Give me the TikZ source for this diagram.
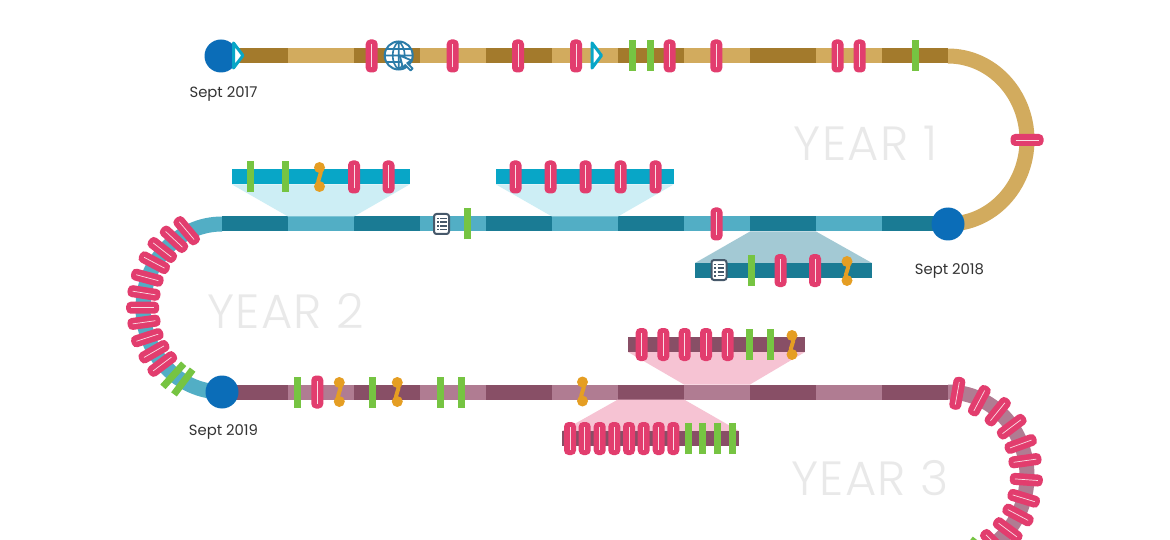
\documentclass[tikz,border=0pt]{standalone}
\usepackage{fontspec}
\setmainfont{Poppins}
\newfontfamily\yearfont[LetterSpace=2.8]{Poppins Light}
\definecolor{yearD}{HTML}{A37A2C}\definecolor{yearL}{HTML}{D2AB5E}
\definecolor{tealD}{HTML}{1A7B94}\definecolor{tealL}{HTML}{52AEC5}
\definecolor{plumD}{HTML}{884F66}\definecolor{plumL}{HTML}{B07C92}
\definecolor{dotblue}{HTML}{0B6DB8}
\definecolor{pinkmk}{HTML}{E23D6E}
\definecolor{pinkcore}{HTML}{FBDDE6}
\definecolor{greenmk}{HTML}{76C442}
\definecolor{orangemk}{HTML}{E59E23}
\definecolor{cyanbar}{HTML}{08A6C7}
\definecolor{cyanfun}{HTML}{CDEEF5}
\definecolor{tealfun}{HTML}{A3C9D4}
\definecolor{pinkfun}{HTML}{F6C3D3}
\definecolor{globeblue}{HTML}{2B7CA8}
\definecolor{iconslate}{HTML}{46586A}
\definecolor{yeargrey}{HTML}{E9E9E9}
\definecolor{labelgrey}{HTML}{333333}
\tikzset{
  trackseg/.style={line width=15pt},
  datelabel/.style={font=\fontsize{14.8}{16}\selectfont, text=labelgrey, inner sep=0pt, anchor=center},
  yearlabel/.style={font=\yearfont\fontsize{48}{50}\selectfont, text=yeargrey, inner sep=0pt, anchor=center},
  startdot/.style={circle, fill=dotblue, minimum size=33pt, inner sep=0pt},
}
\newcommand\pinkm[3]{%
  \begin{scope}[shift={(#1,#2)},rotate=#3]
    \fill[pinkmk,rounded corners=4.5pt] (-16.5,-6) rectangle (16.5,6);
    \draw[pinkcore,line width=0.7pt] (-11.5,0)--(11.5,0);
  \end{scope}}
\newcommand\greenm[3]{%
  \begin{scope}[shift={(#1,#2)},rotate=#3]
    \draw[greenmk,line width=7pt] (-15.5,0)--(15.5,0);
  \end{scope}}
\newcommand\orangem[2]{%
  \begin{scope}[shift={(#1,#2)}]
    \fill[orangemk] (0,-9.5) circle (5.5pt) (0,9.5) circle (5.5pt);
    \draw[orangemk,line width=4pt] (1.5,-7) .. controls (1.5,-2) and (-1.5,2) .. (-1.5,7);
  \end{scope}}
\newcommand\docicon[2]{%
  \begin{scope}[shift={(#1,#2)}]
    \draw[iconslate,fill=white,line width=2pt,rounded corners=2.5pt] (-7.5,-10) rectangle (7.5,10);
    \foreach \yy in {-5.5,-1.8,1.9,5.6}{
      \fill[iconslate] (-4.8,\yy-0.9) rectangle (-3,\yy+0.9);
      \draw[iconslate,line width=1.5pt] (-1.5,\yy)--(5,\yy);
    }
  \end{scope}}
\newcommand\playtri[2]{%
  \draw[cyanbar,fill=white,line width=3pt,line join=round] (#1,#2-12.5)--(#1+9.5,#2)--(#1,#2+12.5)--cycle;}
\begin{document}
\begin{tikzpicture}[x=1pt,y=-1pt]
\clip (0,0) rectangle (1170,540);
\fill[white] (0,0) rectangle (1170,540);
% arcs
\draw[trackseg,yearL] (948,56) .. controls (991.6,56) and (1027,93.6) .. (1027,140) .. controls (1027,186.4) and (991.6,224) .. (948,224);
\draw[trackseg,tealL] (222,224) .. controls (178.4,224) and (143,261.6) .. (143,308) .. controls (143,354.4) and (178.4,392) .. (222,392);
\draw[trackseg,plumL] (948,392) .. controls (991.6,392) and (1027,429.6) .. (1027,476) .. controls (1027,522.4) and (991.6,560) .. (948,560);
% straight tracks: alternating segments
\foreach \xa/\xb in {222/288,354/420,486/552,618/684,750/816,882/948}{
  \draw[trackseg,yearD] (\xa,56)--(\xb,56);
  \draw[trackseg,tealD] (\xa,224)--(\xb,224);
  \draw[trackseg,plumD] (\xa,392)--(\xb,392);
}
\foreach \xa/\xb in {288/354,420/486,552/618,684/750,816/882}{
  \draw[trackseg,yearL] (\xa,56)--(\xb,56);
  \draw[trackseg,tealL] (\xa,224)--(\xb,224);
  \draw[trackseg,plumL] (\xa,392)--(\xb,392);
}
% funnels
\fill[cyanfun] (232,184.5)--(409.5,184.5)--(354,216.5)--(288,216.5)--cycle;
\fill[cyanfun] (496,184.5)--(673.5,184.5)--(618,216.5)--(552,216.5)--cycle;
\fill[tealfun] (750,231.5)--(816,231.5)--(872,263)--(695,263)--cycle;
\fill[pinkfun] (628,352)--(805,352)--(750,384.5)--(684,384.5)--cycle;
\fill[pinkfun] (618,399.5)--(684,399.5)--(739,431)--(562,431)--cycle;
% detail bars
\draw[trackseg,cyanbar] (232,177)--(409.5,177);
\draw[trackseg,cyanbar] (496,177)--(673.5,177);
\draw[trackseg,tealD] (695,270.5)--(872,270.5);
\draw[trackseg,plumD] (628,344.5)--(805,344.5);
\draw[trackseg,plumD] (562,438.5)--(739,438.5);
% top track markers
\foreach \x in {371.7,452.7,518,576,669.7,716.3,837.5,859.7}{\pinkm{\x}{56}{90}}
\foreach \x in {632.7,650.3,915}{\greenm{\x}{55.5}{90}}
\playtri{592}{55.5}
% globe
\begin{scope}[shift={(398.7,55.5)}]
  \draw[globeblue,fill=white,line width=2pt] (0,0) circle (14pt);
  \draw[globeblue,line width=1.6pt] (0,-14)--(0,14) (-14,0)--(14,0)
    (-12.5,-6.5)--(12.5,-6.5) (-12.5,6.5)--(12.5,6.5)
    (0,-14) .. controls (-8,-8) and (-8,8) .. (0,14)
    (0,-14) .. controls (8,-8) and (8,8) .. (0,14);
  \draw[globeblue,fill=white,line width=1.8pt,line join=round] (1,0)--(13,5)--(8.5,7.5)--(14,13)--(12,15)--(6.5,9.5)--(4.5,13)--cycle;
\end{scope}
% right arc marker
\pinkm{1027}{140}{0}
% detail: cyan left
\greenm{250.5}{176.5}{90}\greenm{285}{176.5}{90}
\orangem{319.5}{177}
\pinkm{354}{177}{90}\pinkm{388.5}{177}{90}
% detail: cyan right
\foreach \x in {515.5,550.5,585.5,620.5,655.5}{\pinkm{\x}{177}{90}}
% mid track
\docicon{441.5}{224}
\greenm{467.5}{224}{90}
\pinkm{716.5}{224}{90}
% detail: teal below
\docicon{719}{270}
\greenm{751.5}{270.5}{90}
\pinkm{780.5}{270.5}{90}\pinkm{815}{270.5}{90}
\orangem{847}{271}
% left arc markers
\foreach \px/\py/\pa in {186.7/230.7/-50,174/239.3/-43,162.3/250/-38,154.3/262.7/-28,147.3/277.7/-15,144/293/-9,142.7/307.7/0,144/322.3/8,147.3/337.7/18,154/351.7/30,162.3/364/37}{
  \pinkm{\px}{\py}{\pa}}
\greenm{173.3}{375.3}{48}\greenm{183.3}{382}{53}
% bottom track markers
\greenm{297}{392}{90}\pinkm{317.3}{392}{90}\orangem{339.3}{392}
\greenm{372}{392}{90}\orangem{397.3}{392}
\greenm{440.7}{392}{90}\greenm{461.7}{392}{90}
\orangem{582.5}{391.5}
% plum upper detail
\foreach \x in {641.7,663.3,684.7,706,727.7}{\pinkm{\x}{344.5}{90}}
\greenm{749.3}{344.5}{90}\greenm{770.7}{344.5}{90}
\orangem{792}{345}
% plum lower detail
\foreach \x in {570,584.7,599.7,614.3,629,643.7,658.7,673.3}{\pinkm{\x}{438.5}{90}}
\foreach \x in {688,702.7,717.3,732}{\greenm{\x}{438.5}{90}}
% right lower arc markers
\foreach \px/\py/\pa in {957.3/393.3/80,979.3/400.7/62,997.7/411.7/51,1011.7/426.7/37,1020.7/444/20,1025/460.7/8,1026.3/479.7/-4,1023.7/498.3/-17,1018/515/-28,1007.7/530/-37,994/543/-45}{
  \pinkm{\px}{\py}{\pa}}
\greenm{966}{551}{52}
% dots
\node[startdot] (dotA) at (221,56) {};
\node[startdot] (dotB) at (948,224) {};
\node[startdot] (dotC) at (222,392) {};
\playtri{233.5}{55.5}
% labels
\node[datelabel] (lblA) at (223.5,94) {Sept 2017};
\node[datelabel] (lblB) at (949.5,271) {Sept 2018};
\node[datelabel] (lblC) at (223.5,432) {Sept 2019};
\node[yearlabel] (yrA) at (865.5,143) {YEAR 1};
\node[yearlabel] (yrB) at (285.5,311) {YEAR 2};
\node[yearlabel] (yrC) at (870,478) {YEAR 3};
\end{tikzpicture}
\end{document}
